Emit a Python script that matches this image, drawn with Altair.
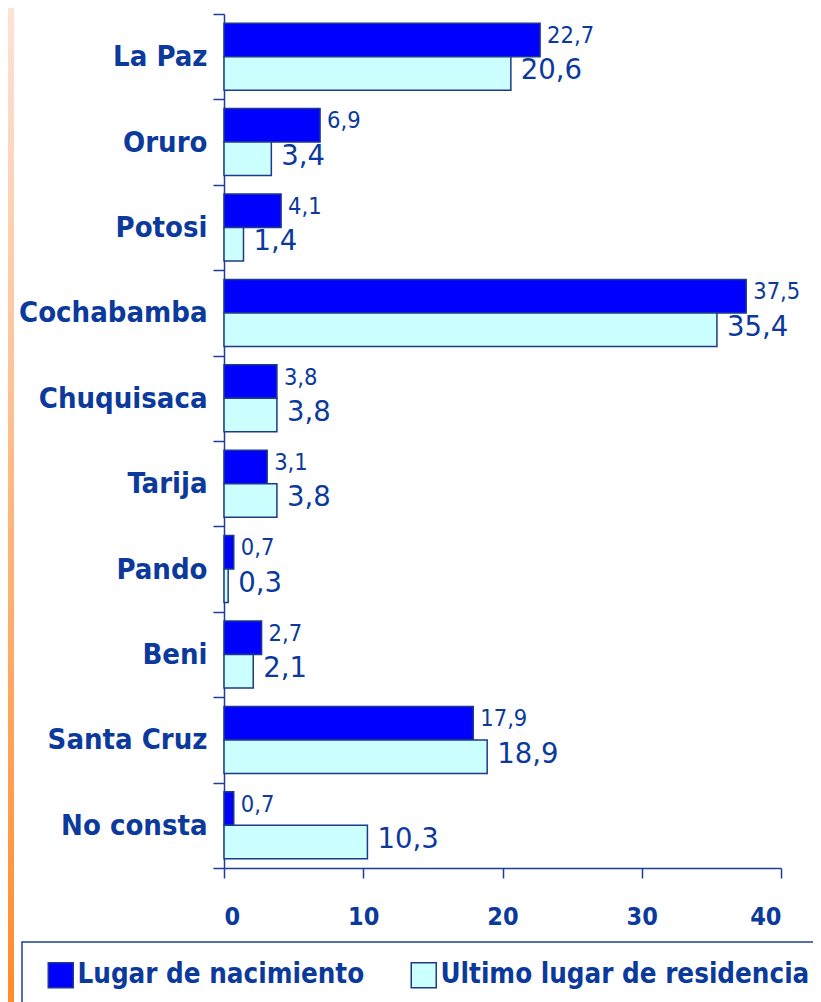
import altair as alt
import pandas as pd

categories = ["La Paz", "Oruro", "Potosi", "Cochabamba", "Chuquisaca",
              "Tarija", "Pando", "Beni", "Santa Cruz", "No consta"]
nacimiento = [22.7, 6.9, 4.1, 37.5, 3.8, 3.1, 0.7, 2.7, 17.9, 0.7]
residencia = [20.6, 3.4, 1.4, 35.4, 3.8, 3.8, 0.3, 2.1, 18.9, 10.3]
series = ["Lugar de nacimiento", "Ultimo lugar de residencia"]
x_ticks = [0, 10, 20, 30, 40]

rows = []
for c, a, b in zip(categories, nacimiento, residencia):
    rows.append({"cat": c, "serie": series[0], "v": a, "lab": f"{a:.1f}".replace(".", ",")})
    rows.append({"cat": c, "serie": series[1], "v": b, "lab": f"{b:.1f}".replace(".", ",")})
df = pd.DataFrame(rows)

NAVY = "#0b3a9c"
AXIS = "#1f3f96"
COND = "DejaVu Sans Condensed, DejaVu Sans, sans-serif"
WIDE = "DejaVu Sans, Verdana, sans-serif"

yenc = alt.Y("cat:N", sort=categories, title=None,
             scale=alt.Scale(paddingInner=0, paddingOuter=0),
             axis=alt.Axis(tickBand="extent", tickSize=11, domainColor=AXIS, tickColor=AXIS,
                           domainWidth=1.5, tickWidth=1.5, labelFontSize=29, labelFont=COND,
                           labelColor=NAVY, labelPadding=6, labelFontWeight="bold",
                           labelLimit=400))
yoff = alt.YOffset("serie:N", sort=series,
                   scale=alt.Scale(domain=series, paddingInner=0, paddingOuter=0.275))
xenc = alt.X("v:Q", title=None, scale=alt.Scale(domain=[0, 40], nice=False),
             axis=alt.Axis(values=x_ticks, grid=False, tickSize=10, domainColor=AXIS, tickColor=AXIS,
                           domainWidth=1.5, tickWidth=1.5, labelFontSize=25, labelFont=COND,
                           labelColor=NAVY, labelPadding=26, labelFontWeight="bold"))

bars = alt.Chart(df).mark_bar(stroke="#1c3a8c", strokeWidth=1.5).encode(
    x=xenc, y=yenc, yOffset=yoff,
    color=alt.Color("serie:N", sort=series,
                    scale=alt.Scale(domain=series, range=["#0000ff", "#ccffff"]),
                    legend=alt.Legend(title=None, orient="none", legendX=-177, legendY=947,
                                      direction="horizontal", symbolType="square",
                                      symbolSize=625, symbolStrokeColor="#1c3a8c",
                                      symbolStrokeWidth=1.5, labelFontSize=27.5, labelFont=COND,
                                      labelColor=NAVY, labelFontWeight="bold", labelOffset=3,
                                      columnPadding=43, padding=0,
                                      labelLimit=500, symbolOpacity=1))
)

t1 = alt.Chart(df).transform_filter(alt.datum.serie == series[0]).mark_text(
    align="left", baseline="middle", dx=7, dy=-4, fontSize=23.5, font=COND, color=NAVY
).encode(x="v:Q", y=alt.Y("cat:N", sort=categories), yOffset=yoff, text="lab:N")

t2 = alt.Chart(df).transform_filter(alt.datum.serie == series[1]).mark_text(
    align="left", baseline="middle", dx=10, dy=-2, fontSize=27.5, font=WIDE, color=NAVY
).encode(x="v:Q", y=alt.Y("cat:N", sort=categories), yOffset=yoff, text="lab:N")

stripe = alt.Chart(pd.DataFrame({"a": [0]})).mark_rect(
    color=alt.LinearGradient(gradient="linear", x1=0, y1=0, x2=0, y2=1,
                             stops=[alt.GradientStop(color="#fde3d6", offset=0),
                                    alt.GradientStop(color="#ff8a2a", offset=1)])
).encode(x=alt.value(-216), x2=alt.value(-210), y=alt.value(-6), y2=alt.value(1000))

box = alt.Chart(pd.DataFrame({"a": [0]})).mark_rect(
    fill="white", fillOpacity=0, stroke=AXIS, strokeWidth=1.5
).encode(x=alt.value(-202), x2=alt.value(640), y=alt.value(928), y2=alt.value(1100))

chart = alt.layer(stripe, box, bars, t1, t2).properties(
    width=557, height=854,
    autosize=alt.AutoSizeParams(type="none"),
    padding={"left": 216, "top": 6, "right": 32, "bottom": 140},
).configure_view(stroke=None)

chart.save("out.html", embed_options={"renderer": "svg", "actions": False})
